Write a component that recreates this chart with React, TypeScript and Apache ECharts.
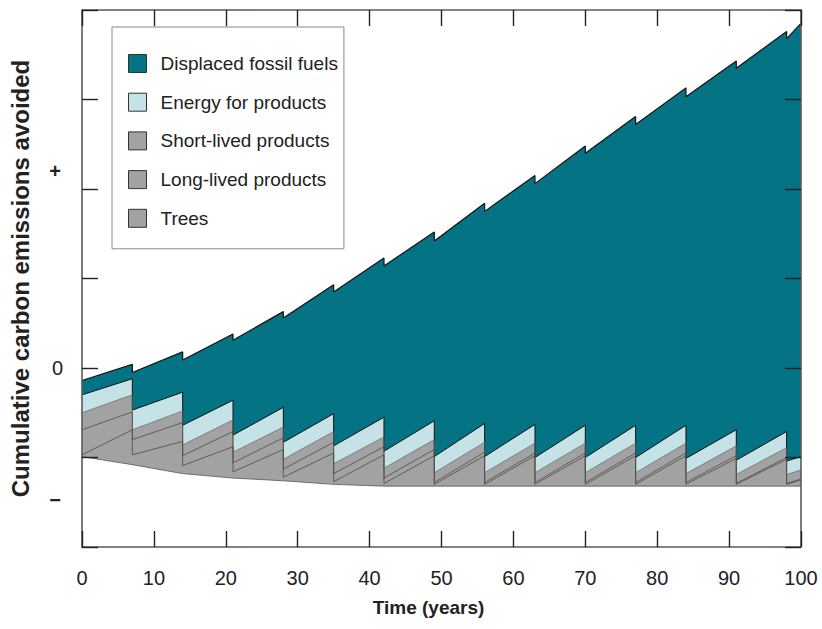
import React, { useEffect, useRef } from "react";
import * as echarts from "echarts";

// Harvest every 7 years: each harvest year appears twice (before / after the drop)
const years = [0, 7, 7, 14, 14, 21, 21, 28, 28, 35, 35, 42, 42, 49, 49, 56, 56, 63, 63, 70, 70, 77, 77, 84, 84, 91, 91, 98, 98, 100];

// Lower boundary of the stack (net starting balance)
const baseline = [-0.99, -1.08, -1.08, -1.18, -1.18, -1.23, -1.23, -1.26, -1.26, -1.3, -1.3, -1.32, -1.32, -1.32, -1.32, -1.32, -1.32, -1.32, -1.32, -1.32, -1.32, -1.32, -1.32, -1.32, -1.32, -1.32, -1.32, -1.32, -1.32, -1.32];

// Layer thicknesses, bottom to top
const trees = [0.02, 0.39, 0.11, 0.36, 0.09, 0.35, 0.07, 0.35, 0.04, 0.35, 0.03, 0.35, 0.03, 0.34, 0.02, 0.34, 0.02, 0.34, 0.02, 0.34, 0.02, 0.34, 0.02, 0.34, 0.02, 0.31, 0.02, 0.3, 0.02, 0.07];
const longLived = [0.28, 0.2, 0.17, 0.21, 0.11, 0.17, 0.1, 0.13, 0.09, 0.12, 0.09, 0.09, 0.06, 0.07, 0.02, 0.04, 0.02, 0.03, 0.02, 0.03, 0.02, 0.03, 0.02, 0.03, 0.02, 0.03, 0.01, 0.02, 0.01, 0.01];
const shortLived = [0.19, 0.19, 0.11, 0.13, 0.12, 0.13, 0.12, 0.12, 0.11, 0.12, 0.11, 0.11, 0.11, 0.11, 0.11, 0.11, 0.11, 0.11, 0.11, 0.11, 0.11, 0.11, 0.11, 0.11, 0.1, 0.11, 0.1, 0.11, 0.1, 0.1];
const energy = [0.2, 0.18, 0.22, 0.21, 0.22, 0.22, 0.19, 0.22, 0.19, 0.2, 0.2, 0.22, 0.19, 0.21, 0.18, 0.21, 0.18, 0.21, 0.17, 0.2, 0.17, 0.2, 0.17, 0.2, 0.17, 0.18, 0.16, 0.18, 0.15, 0.15];
const displaced = [0.16, 0.16, 0.42, 0.45, 0.73, 0.74, 1.06, 1.07, 1.39, 1.44, 1.72, 1.78, 2.07, 2.11, 2.41, 2.46, 2.74, 2.78, 3.06, 3.12, 3.4, 3.45, 3.72, 3.77, 4.04, 4.12, 4.38, 4.47, 4.72, 4.84];

const legendOrder = ["Displaced fossil fuels", "Energy for products", "Short-lived products", "Long-lived products", "Trees"];
const yTitle = "Cumulative carbon emissions avoided";
const xTitle = "Time (years)";
const plusLabel = "+";
const minusLabel = "\u2212";

const TEAL = "#047384";
const LIGHT = "#c5e3e6";
const GRAY = "#a2a2a2";
const FONT = "Liberation Sans, Arial, Helvetica, sans-serif";

const colorOf: Record<string, string> = {
  "Displaced fossil fuels": TEAL,
  "Energy for products": LIGHT,
  "Short-lived products": GRAY,
  "Long-lived products": GRAY,
  Trees: GRAY,
};

const addUp = (a: number[], b: number[]) => a.map((v, i) => v + b[i]);
const pair = (vals: number[]) => years.map((x, i) => [x, vals[i]]);

export default function App() {
  const ref = useRef<HTMLDivElement>(null);
  useEffect(() => {
    if (!ref.current) return;
    const chart = echarts.init(ref.current, null, { renderer: "svg" });

    // cumulative tops of each layer (built from the layer arrays)
    const topTrees = addUp(baseline, trees);
    const topLong = addUp(topTrees, longLived);
    const topShort = addUp(topLong, shortLived);
    const topEnergy = addUp(topShort, energy);
    const topTotal = addUp(topEnergy, displaced);

    const layer = (name: string, vals: number[], color: string, lineColor: string, lineWidth: number) => ({
      name,
      type: "line",
      data: pair(vals),
      symbol: "none",
      silent: true,
      itemStyle: { color },
      lineStyle: { color: lineColor, width: lineWidth },
      areaStyle: { color, opacity: 1, origin: "start" },
      z: 2,
    });
    const axisLine = { show: true, onZero: false, lineStyle: { color: "#5a5a5a", width: 1.6 } };
    const axisTick = { show: true, inside: true, length: 16, lineStyle: { color: "#222", width: 1.4 } };
    chart.setOption({
      animation: false,
      grid: { left: 80, right: 21, top: 10, bottom: 82 },
      xAxis: [
        {
          type: "value",
          min: 0,
          max: 100,
          interval: 10,
          position: "bottom",
          axisLine,
          axisTick,
          splitLine: { show: false },
          axisLabel: { fontSize: 20, color: "#222", margin: 21, fontFamily: FONT },
          name: xTitle,
          nameLocation: "middle",
          nameGap: 51,
          nameTextStyle: { fontSize: 19, fontWeight: "bold", color: "#222", fontFamily: FONT, padding: [0, 26, 0, 0] },
          z: 5,
        },
        {
          type: "value",
          min: 0,
          max: 100,
          interval: 10,
          position: "top",
          axisLine,
          axisTick,
          splitLine: { show: false },
          axisLabel: { show: false },
          z: 5,
        },
      ],
      yAxis: [
        {
          type: "value",
          min: -2,
          max: 4,
          interval: 1,
          position: "left",
          axisLine,
          axisTick,
          splitLine: { show: false },
          axisLabel: {
            fontSize: 20,
            color: "#222",
            margin: 19,
            fontFamily: FONT,
            formatter: (v: number) => (v === 0 ? "0" : ""),
          },
          name: yTitle,
          nameLocation: "middle",
          nameGap: 50,
          nameTextStyle: { fontSize: 24, fontWeight: "bold", color: "#222", fontFamily: FONT },
          z: 5,
        },
        {
          type: "value",
          min: -2,
          max: 4,
          interval: 1,
          position: "right",
          axisLine,
          axisTick,
          splitLine: { show: false },
          axisLabel: { show: false },
          z: 5,
        },
      ],
      legend: {
        orient: "vertical",
        left: 112,
        top: 27,
        data: legendOrder.map((n) => ({
          name: n,
          icon: "rect",
          itemStyle: { color: colorOf[n], borderColor: "#333", borderWidth: 1 },
        })),
        itemWidth: 18,
        itemHeight: 18,
        itemGap: 19.7,
        padding: [27, 6, 21, 16],
        backgroundColor: "#fff",
        borderColor: "#888",
        borderWidth: 1,
        selectedMode: false,
        textStyle: { fontSize: 19, lineHeight: 18, color: "#222", fontFamily: FONT, padding: [0, 0, 0, 9] },
      },
      graphic: [
        { type: "text", x: 55, y: 171, style: { text: plusLabel, fontSize: 20, fontWeight: "bold", fill: "#222", textAlign: "center", textVerticalAlign: "middle", fontFamily: FONT } },
        { type: "text", x: 55, y: 500, style: { text: minusLabel, fontSize: 20, fontWeight: "bold", fill: "#222", textAlign: "center", textVerticalAlign: "middle", fontFamily: FONT } },
      ],
      series: [
        layer("Displaced fossil fuels", topTotal, TEAL, "#111", 1.2),
        layer("Energy for products", topEnergy, LIGHT, "#111", 1),
        layer("Short-lived products", topShort, GRAY, "#666", 0.7),
        layer("Long-lived products", topLong, GRAY, "#4a4a4a", 0.8),
        layer("Trees", topTrees, GRAY, "#4a4a4a", 0.8),
        {
          name: "base",
          type: "line",
          data: pair(baseline),
          symbol: "none",
          silent: true,
          itemStyle: { color: "#fff" },
          lineStyle: { color: "#555", width: 0.8 },
          areaStyle: { color: "#fff", opacity: 1, origin: "start" },
          z: 2,
        },
      ],
    });
    return () => chart.dispose();
  }, []);
  return <div ref={ref} style={{ position: "fixed", left: 0, top: 0, width: 822, height: 629, background: "#fff" }} />;
}
